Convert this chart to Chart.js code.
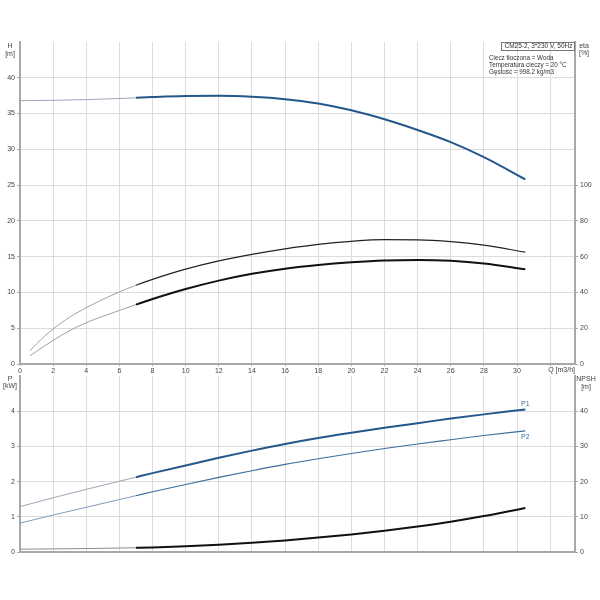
<!DOCTYPE html>
<html>
<head>
<meta charset="utf-8">
<script src="https://cdn.jsdelivr.net/npm/chart.js@4.4.1/dist/chart.umd.min.js"></script>
<style>
  html, body { margin: 0; padding: 0; background: #fff; }
  #wrap { position: relative; width: 600px; height: 600px; }
  canvas { position: absolute; left: 0; }
  #top { top: 0; }
  #bottom { top: 360px; }
</style>
</head>
<body>
<div id="wrap">
  <canvas id="top" width="600" height="380"></canvas>
  <canvas id="bottom" width="600" height="240"></canvas>
</div>
<script>
// flow points [m3/h]
const qFlow = [0, 2, 4, 6, 7, 8, 10, 12, 14, 16, 18, 20, 22, 24, 26, 28, 30.5];
const qEta = [0.6, 1, 2, 3, 4, 6, 7, 8, 10, 12, 14, 16, 18, 20, 22, 24, 26, 28, 30.5];

// head [m]
const head = [36.8, 36.85, 36.95, 37.1, 37.2, 37.3, 37.45, 37.48, 37.34, 37.0, 36.4, 35.45, 34.2, 32.7, 31.0, 28.9, 25.8];
// efficiencies [%]
const etaUpper = [7.3, 11.3, 19.6, 26.2, 31.5, 40.3, 44, 47.3, 53, 57.6, 61.3, 64.4, 66.9, 68.6, 69.5, 69.4, 68.4, 66.4, 62.5];
const etaLower = [4.6, 7.1, 13.2, 18.6, 23.1, 29.9, 33.2, 36.3, 41.9, 46.6, 50.4, 53.3, 55.4, 56.9, 57.9, 58.2, 57.7, 56.2, 53];
// power [kW]
const powerP1 = [1.29, 1.54, 1.78, 2.01, 2.125, 2.24, 2.46, 2.675, 2.88, 3.07, 3.24, 3.39, 3.53, 3.66, 3.79, 3.91, 4.05];
const powerP2 = [0.82, 1.05, 1.27, 1.49, 1.6, 1.71, 1.92, 2.12, 2.31, 2.49, 2.65, 2.8, 2.94, 3.07, 3.19, 3.31, 3.44];
// NPSH [m]
const npsh = [0.8, 0.88, 0.98, 1.12, 1.2, 1.3, 1.6, 2.05, 2.6, 3.3, 4.1, 5.0, 6.05, 7.25, 8.6, 10.2, 12.5];

const infoLines = ['Ciecz tłoczona = Woda', 'Temperatura cieczy = 20 °C', 'Gęstość = 998.2 kg/m3'];

const gridColor = '#dcdcdc';
const axisColor = '#a8a8a8';
const textColor = '#444';
const blue = '#24578a';
const fontFamily = '"Liberation Sans", Arial, sans-serif';
const tickFont = { family: fontFamily, size: 7 };
const clear = 'rgba(0,0,0,0)';
const opPoint = 7;

function curve(qs, vals, axis, color, width, thinColor) {
  return {
    data: qs.map((x, i) => ({ x: x, y: vals[i] })),
    yAxisID: axis,
    borderColor: color,
    borderWidth: width,
    pointRadius: 0,
    fill: false,
    cubicInterpolationMode: 'monotone',
    segment: {
      borderColor: c => c.p0.parsed.x < opPoint ? thinColor : color,
      borderWidth: c => c.p0.parsed.x < opPoint ? 1 : width
    }
  };
}

function xScale(showLabels, height) {
  return {
    type: 'linear',
    min: 0,
    max: 33.5,
    afterFit: s => { s.height = height; },
    ticks: {
      display: showLabels,
      stepSize: 2,
      includeBounds: false,
      autoSkip: false,
      maxRotation: 0,
      padding: 1,
      font: tickFont,
      color: textColor,
      callback: v => v === 32 ? '' : v
    },
    grid: { color: gridColor, tickLength: 2, tickColor: axisColor, drawTicks: showLabels },
    border: { color: axisColor, width: 2 }
  };
}

function yScale(pos, max, step, shownMax, width, onChart) {
  return {
    type: 'linear',
    position: pos,
    min: 0,
    max: max,
    afterFit: s => { s.width = width; },
    ticks: {
      stepSize: step,
      padding: 2,
      font: tickFont,
      color: textColor,
      callback: v => v > shownMax ? '' : v
    },
    grid: {
      drawOnChartArea: onChart,
      color: c => c.tick && c.tick.value > shownMax ? clear : gridColor,
      tickColor: c => c.tick && c.tick.value > shownMax ? clear : axisColor,
      tickLength: 3
    },
    border: { color: axisColor, width: 2 }
  };
}

function text(ctx, str, x, y, size, align, color) {
  ctx.save();
  ctx.font = size + 'px ' + fontFamily;
  ctx.fillStyle = color || textColor;
  ctx.textAlign = align;
  ctx.textBaseline = 'middle';
  ctx.fillText(str, x, y);
  ctx.restore();
}

const topLabels = {
  id: 'topLabels',
  afterDraw(chart) {
    const ctx = chart.ctx;
    const area = chart.chartArea;
    text(ctx, 'H', 10, 46, 7, 'center');
    text(ctx, '[m]', 10, 54, 7, 'center');
    text(ctx, 'eta', 584, 46, 7, 'center');
    text(ctx, '[%]', 584, 53, 7, 'center');
    text(ctx, 'Q [m3/h]', chart.scales.x.getPixelForValue(32) - 2, area.bottom + 6, 7, 'left');
    // info box
    ctx.save();
    ctx.strokeStyle = '#777';
    ctx.lineWidth = 1;
    ctx.strokeRect(501.5, area.top + 0.5, area.right - 502, 8);
    ctx.restore();
    text(ctx, 'CM25-2, 3*230 V, 50Hz', 538.5, area.top + 4.5, 6.5, 'center', '#333');
    infoLines.forEach((l, i) => text(ctx, l, 489, 58 + i * 7, 6.3, 'left', '#333'));
  }
};

const bottomLabels = {
  id: 'bottomLabels',
  afterDraw(chart) {
    const ctx = chart.ctx;
    const sx = chart.scales.x;
    const sp = chart.scales.p;
    text(ctx, 'P', 10, 19, 7, 'center');
    text(ctx, '[kW]', 10, 26, 7, 'center');
    text(ctx, 'NPSH', 586, 19, 7, 'center');
    text(ctx, '[m]', 586, 27, 7, 'center');
    const last = qFlow.length - 1;
    const lx = sx.getPixelForValue(qFlow[last]);
    text(ctx, 'P1', lx, sp.getPixelForValue(powerP1[last]) - 5, 7, 'center', '#3d6d9c');
    text(ctx, 'P2', lx, sp.getPixelForValue(powerP2[last]) + 6, 7, 'center', '#3d6d9c');
  }
};

const common = {
  responsive: false,
  animation: false,
  events: [],
  plugins: { legend: { display: false }, tooltip: { enabled: false } }
};

new Chart(document.getElementById('top'), {
  type: 'line',
  data: {
    datasets: [
      curve(qFlow, head, 'y', blue, 2, '#9aa6b6'),
      curve(qEta, etaUpper, 'eta', '#222', 1.2, '#a0a0a0'),
      curve(qEta, etaLower, 'eta', '#111', 2, '#a0a0a0')
    ]
  },
  options: Object.assign({}, common, {
    layout: { padding: { top: 42, left: 0, right: 0, bottom: 0 } },
    scales: {
      x: xScale(true, 16),
      y: yScale('left', 45, 5, 40, 20, true),
      eta: yScale('right', 180, 20, 100, 25, false)
    }
  }),
  plugins: [topLabels]
});

new Chart(document.getElementById('bottom'), {
  type: 'line',
  data: {
    datasets: [
      curve(qFlow, powerP1, 'p', blue, 2, '#9aa6b6'),
      curve(qFlow, powerP2, 'p', '#3d6d9c', 1.1, '#7f9cbb'),
      curve(qFlow, npsh, 'npsh', '#111', 2, '#8a8a8a')
    ]
  },
  options: Object.assign({}, common, {
    layout: { padding: { top: 16, left: 0, right: 0, bottom: 0 } },
    scales: {
      x: xScale(false, 48),
      p: yScale('left', 5, 1, 4, 20, true),
      npsh: yScale('right', 50, 10, 40, 25, false)
    }
  }),
  plugins: [bottomLabels]
});
</script>
</body>
</html>
